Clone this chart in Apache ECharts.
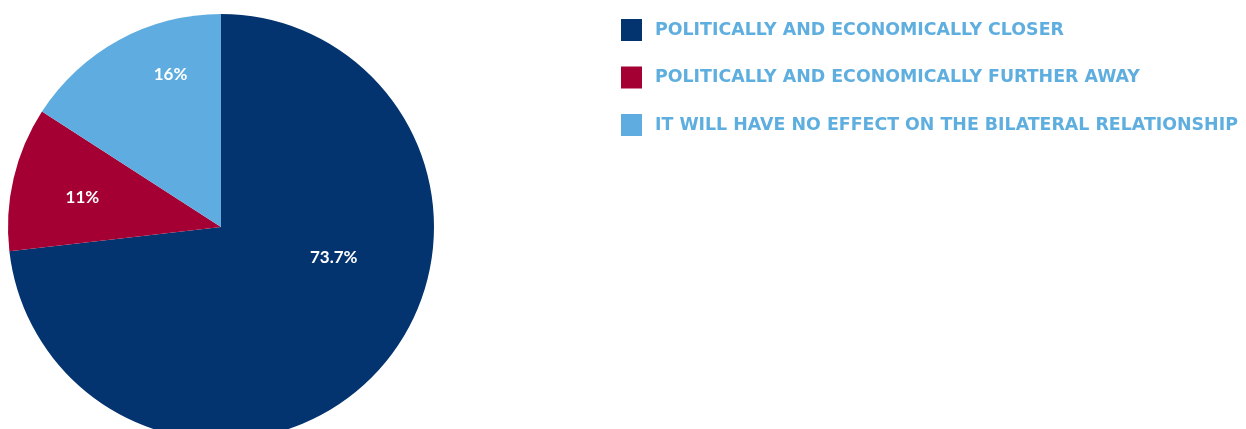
<!DOCTYPE html>
<html>
<head>
<meta charset="utf-8">
<script src="https://cdn.jsdelivr.net/npm/echarts@6/dist/echarts.min.js"></script>
<style>
html,body{margin:0;padding:0;background:#fff;}
#chart{width:1246px;height:429px;}
</style>
</head>
<body>
<div id="chart"></div>
<script>
const categories = [
  'POLITICALLY AND ECONOMICALLY CLOSER',
  'POLITICALLY AND ECONOMICALLY FURTHER AWAY',
  'IT WILL HAVE NO EFFECT ON THE BILATERAL RELATIONSHIP'
];
const values = [73.7, 11, 16];
const labels = ['73.7%', '11%', '16%'];
const colors = ['#04346f', '#a50034', '#5fade0'];
const labelShift = [[31, -42], [-32, -5], [2, -56]];

const chart = echarts.init(document.getElementById('chart'));
chart.setOption({
  animation: false,
  legend: {
    orient: 'vertical',
    left: 621,
    top: 19,
    padding: 0,
    itemWidth: 21,
    itemHeight: 22,
    itemGap: 25.5,
    icon: 'rect',
    textStyle: {
      color: '#5eaedf',
      fontFamily: 'DejaVu Sans',
      fontWeight: 'bold',
      fontSize: 17.4,
      padding: [0, 0, 0, 8]
    },
    data: categories
  },
  series: [{
    type: 'pie',
    center: [221, 227],
    radius: 213,
    startAngle: 90,
    clockwise: true,
    silent: true,
    itemStyle: { borderWidth: 0 },
    label: {
      show: true,
      position: 'inside',
      color: '#fff',
      fontFamily: 'Lato',
      fontWeight: 'bold',
      fontSize: 17,
      formatter: p => labels[p.dataIndex]
    },
    labelLine: { show: false },
    labelLayout: p => ({ dx: labelShift[p.dataIndex][0], dy: labelShift[p.dataIndex][1] }),
    data: categories.map((c, i) => ({ name: c, value: values[i], itemStyle: { color: colors[i] } }))
  }]
});
</script>
</body>
</html>
